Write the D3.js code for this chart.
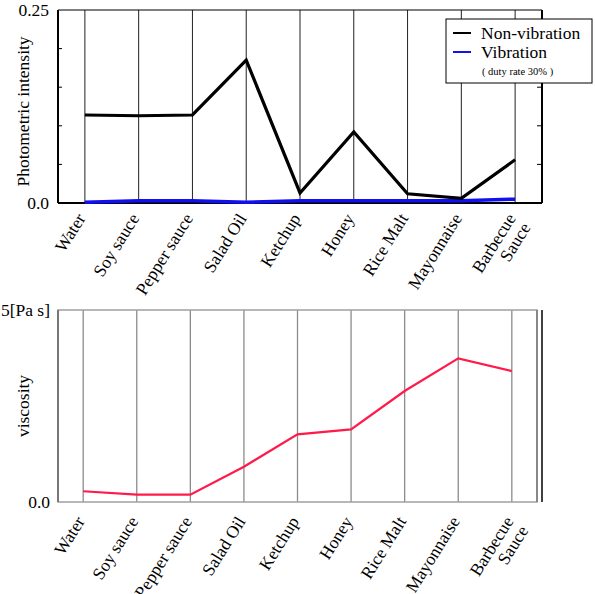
<!DOCTYPE html>
<html><head><meta charset="utf-8">
<script src="https://cdn.jsdelivr.net/npm/d3@7"></script>
<style>body{margin:0;background:#fff}svg{display:block}</style>
</head><body>
<script>
const categories = ["Water","Soy sauce","Pepper sauce","Salad Oil","Ketchup","Honey","Rice Malt","Mayonnaise","Barbecue\nSauce"];
const nonVibration = [0.114,0.113,0.114,0.185,0.013,0.092,0.012,0.006,0.056];
const vibration = [0.001,0.003,0.003,0.001,0.003,0.003,0.003,0.003,0.005];
const viscosity = [0.28,0.19,0.19,0.92,1.76,1.89,2.89,3.74,3.41];
const topTickLabels = ["0.0","0.25"];
const bottomTickLabels = ["0.0","5[Pa s]"];

const FONT = "'Liberation Serif', 'Times New Roman', serif";
const FS = 17.5;
const W=595,H=594;
const svg=d3.select("body").append("svg").attr("width",W).attr("height",H)
  .attr("font-family",FONT);

// ---------- Top chart ----------
const t={l:58,r:542,t:10,b:203};
const xT=d3.scalePoint().domain(categories).range([t.l,t.r]).padding(0.5);
const yT=d3.scaleLinear().domain([0,0.25]).range([t.b,t.t]);
const gT=svg.append("g");
gT.selectAll(".vg").data(categories).join("line")
  .attr("x1",d=>xT(d)).attr("x2",d=>xT(d)).attr("y1",t.t).attr("y2",t.b)
  .attr("stroke","#222").attr("stroke-width",1);
const tv=d3.range(0.05,0.25,0.05);
gT.selectAll(".lt").data(tv).join("line").attr("x1",t.l).attr("x2",t.l+4)
  .attr("y1",d=>yT(d)).attr("y2",d=>yT(d)).attr("stroke","#000");
gT.selectAll(".rt").data(tv).join("line").attr("x1",t.r).attr("x2",t.r-5)
  .attr("y1",d=>yT(d)).attr("y2",d=>yT(d)).attr("stroke","#000");
gT.append("line").attr("x1",t.l).attr("x2",t.r).attr("y1",t.t).attr("y2",t.t).attr("stroke","#000").attr("stroke-width",1.2);
gT.append("line").attr("x1",t.l).attr("x2",t.l).attr("y1",t.t).attr("y2",t.b).attr("stroke","#000").attr("stroke-width",2);
gT.append("line").attr("x1",t.r).attr("x2",t.r).attr("y1",t.t).attr("y2",t.b).attr("stroke","#000").attr("stroke-width",2);
gT.append("line").attr("x1",t.l).attr("x2",t.r).attr("y1",t.b).attr("y2",t.b).attr("stroke","#000").attr("stroke-width",2);
const lineT=d3.line().x((d,i)=>xT(categories[i])).y(d=>yT(d));
gT.append("path").datum(vibration).attr("d",lineT).attr("fill","none").attr("stroke","#1010f0").attr("stroke-width",3.5);
gT.append("path").datum(nonVibration).attr("d",lineT).attr("fill","none").attr("stroke","#000").attr("stroke-width",3.2);
gT.selectAll(".yl").data(topTickLabels).join("text")
  .attr("x",49).attr("y",(d,i)=>yT(i?0.25:0)).attr("dy","0.32em")
  .attr("text-anchor","end").attr("font-size",FS).text(d=>d);
gT.append("text").attr("transform",`translate(29,${(t.t+t.b)/2+5}) rotate(-90)`)
  .attr("text-anchor","middle").attr("font-size",FS).text("Photometric intensity");
function xLabels(g,x,y0,dxOff){
  g.selectAll(".xl").data(categories).join("text")
   .attr("transform",d=>`translate(${x(d)+dxOff},${y0}) rotate(-58)`)
   .attr("text-anchor","end").attr("font-size",FS)
   .each(function(d){
     const parts=d.split("\n");
     d3.select(this).selectAll("tspan").data(parts).join("tspan")
       .attr("x",0).attr("dy",(p,i)=>i?"1em":"0.35em").text(p=>p);
   });
}
xLabels(gT,xT,215,-4);
const lg=svg.append("g");
lg.append("rect").attr("x",446).attr("y",19).attr("width",146).attr("height",64).attr("fill","#fff").attr("stroke","#000").attr("stroke-width",1);
lg.append("line").attr("x1",453).attr("x2",471).attr("y1",33).attr("y2",33).attr("stroke","#000").attr("stroke-width",2);
lg.append("line").attr("x1",453).attr("x2",471).attr("y1",52).attr("y2",52).attr("stroke","#1010f0").attr("stroke-width",2);
lg.append("text").attr("x",481).attr("y",39).attr("font-size",FS).text("Non-vibration");
lg.append("text").attr("x",481).attr("y",57.5).attr("font-size",FS).text("Vibration");
lg.append("text").attr("x",482).attr("y",74.5).attr("font-size",10.5).text("( duty rate 30% )");

// ---------- Bottom chart ----------
const b={l:58,r:537,t:310,b:502};
const xB=d3.scalePoint().domain(categories).range([b.l,b.r]).padding(0.47);
const yB=d3.scaleLinear().domain([0,5]).range([b.b,b.t]);
const gB=svg.append("g");
gB.selectAll(".vg").data(categories).join("line")
  .attr("x1",d=>xB(d)).attr("x2",d=>xB(d)).attr("y1",b.t).attr("y2",b.b)
  .attr("stroke","#8c8c8c").attr("stroke-width",1.3);
gB.append("rect").attr("x",b.l).attr("y",b.t).attr("width",b.r-b.l).attr("height",b.b-b.t)
  .attr("fill","none").attr("stroke","#a0a0a0").attr("stroke-width",1.5);
gB.append("line").attr("x1",b.l).attr("x2",b.l).attr("y1",b.t).attr("y2",b.b).attr("stroke","#777").attr("stroke-width",2);
gB.append("line").attr("x1",b.r).attr("x2",b.r).attr("y1",b.t).attr("y2",b.b).attr("stroke","#888").attr("stroke-width",2);
gB.append("line").attr("x1",542).attr("x2",542).attr("y1",b.t).attr("y2",b.b).attr("stroke","#000").attr("stroke-width",1.5);
const lineB=d3.line().x((d,i)=>xB(categories[i])).y(d=>yB(d));
gB.append("path").datum(viscosity).attr("d",lineB).attr("fill","none").attr("stroke","#ff1a4a").attr("stroke-width",2.2);
gB.selectAll(".yl").data(bottomTickLabels).join("text")
  .attr("x",50).attr("y",(d,i)=>yB(i?5:0)).attr("dy","0.32em")
  .attr("text-anchor","end").attr("font-size",FS).text(d=>d);
gB.append("text").attr("transform",`translate(29,${(b.t+b.b)/2}) rotate(-90)`)
  .attr("text-anchor","middle").attr("font-size",FS).text("viscosity");
xLabels(gB,xB,518,-3);
</script>
</body></html>
